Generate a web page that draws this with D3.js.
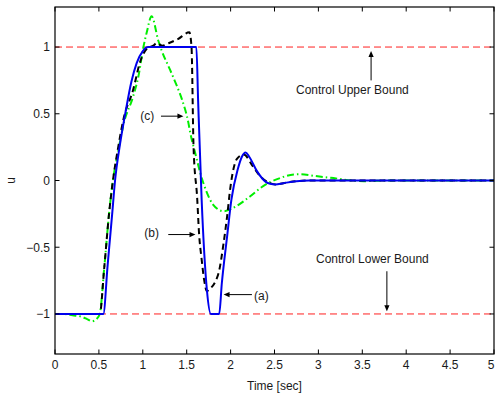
<!DOCTYPE html>
<html><head><meta charset="utf-8">
<script src="https://cdn.jsdelivr.net/npm/d3@7"></script>
<style>body{margin:0;background:#fff}svg{display:block}text{font-family:"Liberation Sans",Arial,Helvetica,sans-serif;fill:#1a1a1a}</style>
</head><body>
<script>
// ---- data ----
const xTicks = [0,0.5,1,1.5,2,2.5,3,3.5,4,4.5,5];
const yTicks = [-1,-0.5,0,0.5,1];
const xTickLabels = ["0","0.5","1","1.5","2","2.5","3","3.5","4","4.5","5"];
const yTickLabels = ["\u22121","\u22120.5","0","0.5","1"];
const bounds = [1,-1];

const tA = [0,0.55,0.60,0.65,0.684,0.74,0.80,0.87,0.93,1.0,1.06,1.61,1.63,1.67,1.73,1.775,1.87,1.90,1.96,2.01,2.08,2.13,2.17,2.21,2.30,2.40,2.45,2.51,2.60,2.75,2.9,5];
const uA = [-1,-1,-0.63,-0.26,0,0.27,0.5,0.74,0.88,0.97,1,1,0.6,-0.14,-0.82,-1,-1,-0.77,-0.42,-0.14,0.08,0.18,0.21,0.18,0.07,-0.01,-0.025,-0.03,-0.02,-0.005,0,0];

const tB = [0,0.51,0.56,0.62,0.66,0.72,0.78,0.89,0.97,1.05,1.12,1.16,1.22,1.30,1.40,1.53,1.555,1.578,1.62,1.64,1.67,1.70,1.73,1.75,1.86,1.92,1.96,2.0,2.07,2.15,2.25,2.34,2.45,2.51,2.6,2.75,2.9,5];
const uB = [-1,-1,-0.66,-0.22,0,0.25,0.46,0.68,0.89,0.99,1.01,1.03,1.01,1.03,1.06,1.11,1.0,0.25,-0.14,-0.39,-0.59,-0.75,-0.83,-0.82,-0.7,-0.47,-0.27,-0.04,0.16,0.195,0.11,0.03,-0.02,-0.03,-0.02,-0.005,0,0];

const tC = [0,0.1,0.2,0.3,0.37,0.42,0.47,0.51,0.56,0.62,0.66,0.72,0.78,0.89,0.95,1.007,1.045,1.10,1.178,1.217,1.31,1.387,1.445,1.52,1.54,1.615,1.653,1.73,1.80,1.92,2.07,2.22,2.375,2.53,2.72,2.79,2.95,3.14,3.52,3.8,5];
const uC = [-1,-1,-1.01,-1.02,-1.04,-1.055,-1.04,-1,-0.66,-0.22,0,0.22,0.42,0.63,0.78,1.0,1.11,1.23,1.045,0.97,0.83,0.71,0.61,0.43,0.36,0.16,0.06,-0.09,-0.18,-0.23,-0.19,-0.12,-0.04,0.01,0.045,0.047,0.035,0.02,-0.005,0,0];

const W=495,H=399, L=55, R=494, T=7, B=354;
const FS=12;
const x = d3.scaleLinear().domain([0,5]).range([L,R]);
const y = d3.scaleLinear().domain([-1.3,1.3]).range([B,T]);

const svg = d3.select("body").append("svg").attr("width",W).attr("height",H);
svg.append("defs").append("clipPath").attr("id","clip").append("rect")
  .attr("x",L).attr("y",T).attr("width",R-L).attr("height",B-T);

const g = svg.append("g").attr("clip-path","url(#clip)");
bounds.forEach(b=>{
  g.append("line").attr("x1",x(0)).attr("x2",x(5)).attr("y1",y(b)).attr("y2",y(b))
   .attr("stroke","#ff2020").attr("stroke-width",1).attr("stroke-dasharray","7,4");
});
const line = d3.line().x(d=>x(d[0])).y(d=>y(d[1])).curve(d3.curveMonotoneX);
const zip=(a,b)=>a.map((v,i)=>[v,b[i]]);
g.append("path").attr("d",line(zip(tC,uC))).attr("fill","none").attr("stroke","#00ee00")
  .attr("stroke-width",2).attr("stroke-dasharray","7,3,1.5,3");
g.append("path").attr("d",line(zip(tB,uB))).attr("fill","none").attr("stroke","#000")
  .attr("stroke-width",2).attr("stroke-dasharray","6,4");
g.append("path").attr("d",line(zip(tA,uA))).attr("fill","none").attr("stroke","#0000ee")
  .attr("stroke-width",2);

const ax = svg.append("g");
ax.append("rect").attr("x",L).attr("y",T).attr("width",R-L).attr("height",B-T)
  .attr("fill","none").attr("stroke","#000").attr("stroke-width",1.2);
const tl=4.5;
xTicks.forEach((t,i)=>{
  ax.append("line").attr("x1",x(t)).attr("x2",x(t)).attr("y1",B).attr("y2",B-tl).attr("stroke","#000");
  ax.append("line").attr("x1",x(t)).attr("x2",x(t)).attr("y1",T).attr("y2",T+tl).attr("stroke","#000");
  const txt = ax.append("text").attr("x",x(t)).attr("y",B+14.5).attr("text-anchor","middle")
    .attr("font-size",FS).text(xTickLabels[i]);
  const w = txt.node().getComputedTextLength();
  if (x(t)+w/2 > W-0.5) txt.attr("x", W-0.5-w/2);
});
yTicks.forEach((v,i)=>{
  ax.append("line").attr("x1",L).attr("x2",L+tl).attr("y1",y(v)).attr("y2",y(v)).attr("stroke","#000");
  ax.append("line").attr("x1",R).attr("x2",R-tl).attr("y1",y(v)).attr("y2",y(v)).attr("stroke","#000");
  ax.append("text").attr("x",L-5).attr("y",y(v)+4.3).attr("text-anchor","end")
    .attr("font-size",FS).text(yTickLabels[i]);
});
svg.append("text").attr("x",(L+R)/2).attr("y",389.5).attr("text-anchor","middle").attr("font-size",FS).text("Time [sec]");
svg.append("text").attr("transform",`translate(15,${y(0)}) rotate(-90)`).attr("text-anchor","middle").attr("font-size",FS).text("u");

function arrow(x1,y1,x2,y2){
  const a=Math.atan2(y2-y1,x2-x1), len=6, w=2.6;
  svg.append("line").attr("x1",x1).attr("y1",y1).attr("x2",x2-Math.cos(a)*len*0.8).attr("y2",y2-Math.sin(a)*len*0.8)
    .attr("stroke","#000").attr("stroke-width",1);
  const bx=x2-Math.cos(a)*len, by=y2-Math.sin(a)*len;
  svg.append("path").attr("d",`M${x2},${y2}L${bx-Math.sin(a)*w},${by+Math.cos(a)*w}L${bx+Math.sin(a)*w},${by-Math.cos(a)*w}Z`).attr("fill","#000");
}
function label(t,u,s){svg.append("text").attr("x",x(t)).attr("y",y(u)+4.3).attr("text-anchor","middle").attr("font-size",FS).text(s);}
label(1.05,0.482,"(c)"); arrow(x(1.207),y(0.482),x(1.463),y(0.482));
label(1.10,-0.39,"(b)"); arrow(x(1.29),y(-0.405),x(1.60),y(-0.405));
label(2.35,-0.865,"(a)"); arrow(x(2.243),y(-0.855),x(1.92),y(-0.855));
label(3.387,0.68,"Control Upper Bound"); arrow(x(3.6),y(0.75),x(3.6),y(0.97));
label(3.615,-0.587,"Control Lower Bound"); arrow(x(3.78),y(-0.68),x(3.78),y(-0.98));
</script>
</body></html>
